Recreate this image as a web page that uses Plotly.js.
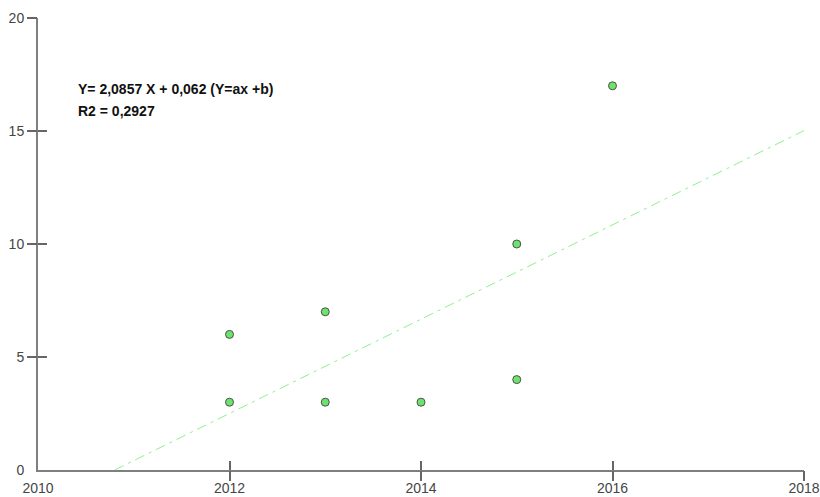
<!DOCTYPE html>
<html>
<head>
<meta charset="utf-8">
<script src="https://cdn.plot.ly/plotly-3.0.1.min.js"></script>
<style>
  html, body { margin: 0; padding: 0; background: #fff; }
  #chart { width: 820px; height: 497px; }
</style>
</head>
<body>
<div id="chart"></div>
<script>
// Observations (year, count)
const years  = [2012, 2012, 2013, 2013, 2014, 2015, 2015, 2016];
const counts = [6,    3,    7,    3,    3,    10,   4,    17];

// Linear fit as reported: Y = a X + b, X measured from xOrigin
const slopeA = 2.0857;
const interceptB = 0.062;
const r2 = 0.2927;
const xOrigin = 2010.83;
const fitEnd = 2018;

// Axis ticks
const xTickVals = [2010, 2012, 2014, 2016, 2018];
const yTickVals = [0, 5, 10, 15, 20];
const xMarkVals = [2012, 2014, 2016, 2018];
const yMarkVals = [5, 10, 15, 20];

const fitStart = xOrigin - interceptB / slopeA;
const fitX = [fitStart, fitEnd];
const fitY = fitX.map(x => slopeA * (x - xOrigin) + interceptB);

const fmt = v => String(v).replace('.', ',');

const axisColor = '#7f7f7f';
const tickColor = '#666666';
const labelColor = '#454545';

const traces = [
  {
    x: fitX, y: fitY, mode: 'lines', type: 'scatter',
    line: { color: '#8ef08e', width: 1, dash: '10px,5px,3px,5px' },
    hoverinfo: 'skip'
  },
  {
    x: years, y: counts, mode: 'markers', type: 'scatter',
    marker: { size: 8, color: '#6be46b', line: { color: '#505050', width: 1 } }
  },
  // empty traces so the tick-only overlay axes are drawn
  { x: [], y: [], xaxis: 'x2', yaxis: 'y2', type: 'scatter', mode: 'markers' },
  { x: [], y: [], xaxis: 'x3', yaxis: 'y3', type: 'scatter', mode: 'markers' }
];

const baseX = { range: [2010, 2018], showgrid: false, zeroline: false };
const baseY = { range: [0, 20], showgrid: false, zeroline: false };

const layout = {
  width: 820, height: 497,
  margin: { l: 38, r: 16, t: 18, b: 27 },
  paper_bgcolor: '#fff', plot_bgcolor: '#fff',
  showlegend: false,
  font: { family: 'Liberation Sans, Arial, sans-serif', size: 14, color: labelColor },
  xaxis: Object.assign({}, baseX, {
    tickmode: 'array', tickvals: xTickVals, ticktext: xTickVals.map(String),
    ticks: 'outside', ticklen: 4, tickcolor: 'rgba(0,0,0,0)',
    showline: true, linecolor: axisColor, linewidth: 2,
    tickfont: { size: 14, color: labelColor }
  }),
  yaxis: Object.assign({}, baseY, {
    tickmode: 'array', tickvals: yTickVals, ticktext: yTickVals.map(String),
    ticks: 'outside', ticklen: 9, tickcolor: 'rgba(0,0,0,0)',
    showline: true, linecolor: axisColor, linewidth: 2,
    tickfont: { size: 14, color: labelColor }
  }),
  xaxis2: Object.assign({}, baseX, {
    overlaying: 'x', anchor: 'y2', tickmode: 'array', tickvals: xMarkVals,
    ticks: 'outside', ticklen: 10, tickwidth: 2, tickcolor: tickColor,
    showticklabels: false, showline: false
  }),
  yaxis2: Object.assign({}, baseY, {
    overlaying: 'y', anchor: 'x2', tickmode: 'array', tickvals: yMarkVals,
    ticks: 'outside', ticklen: 10, tickwidth: 2, tickcolor: tickColor,
    showticklabels: false, showline: false
  }),
  xaxis3: Object.assign({}, baseX, {
    overlaying: 'x', anchor: 'y3', tickmode: 'array', tickvals: xMarkVals,
    ticks: 'inside', ticklen: 9, tickwidth: 2, tickcolor: tickColor,
    showticklabels: false, showline: false
  }),
  yaxis3: Object.assign({}, baseY, {
    overlaying: 'y', anchor: 'x3', tickmode: 'array', tickvals: yMarkVals,
    ticks: 'inside', ticklen: 9, tickwidth: 2, tickcolor: tickColor,
    showticklabels: false, showline: false
  }),
  annotations: [
    {
      xref: 'paper', yref: 'paper', x: 0.050, y: 0.843, xanchor: 'left', yanchor: 'middle',
      text: '<b>Y= ' + fmt(slopeA) + ' X + ' + fmt(interceptB) + ' (Y=ax +b)</b>',
      showarrow: false, font: { size: 14, color: '#111' }
    },
    {
      xref: 'paper', yref: 'paper', x: 0.050, y: 0.795, xanchor: 'left', yanchor: 'middle',
      text: '<b>R2 = ' + fmt(r2) + '</b>',
      showarrow: false, font: { size: 14, color: '#111' }
    }
  ]
};

Plotly.newPlot('chart', traces, layout, { staticPlot: true });
</script>
</body>
</html>
